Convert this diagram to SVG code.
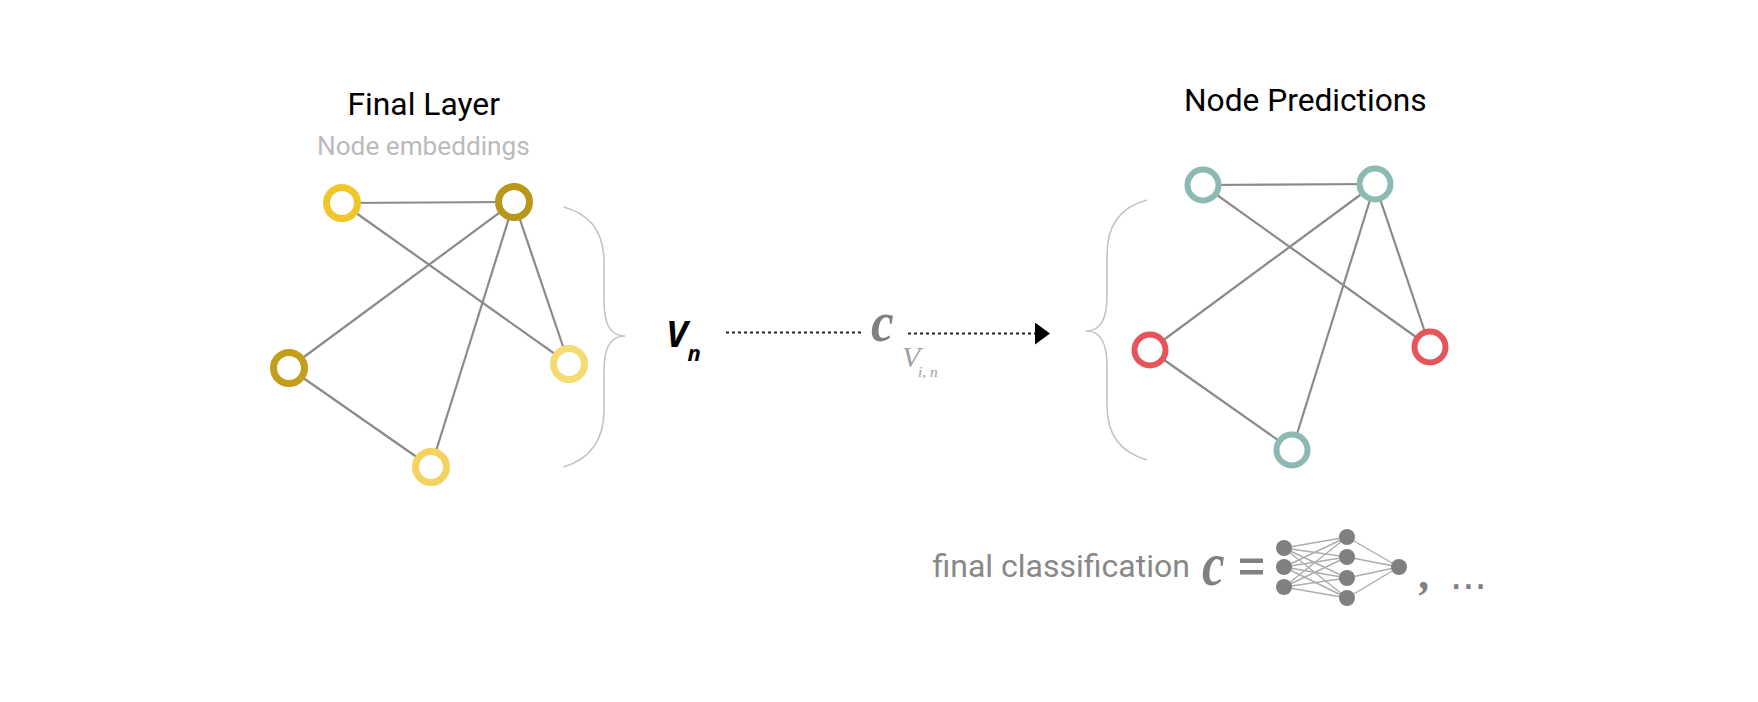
<svg xmlns="http://www.w3.org/2000/svg" width="1758" height="702" viewBox="0 0 1758 702">
<style>
.t{font-family:Roboto,"Liberation Sans",sans-serif}
.e{stroke:#8a8a8a;stroke-width:2.2;fill:none}
.n{fill:#fff;stroke-width:7}
.r{fill:#fff;stroke-width:6}
.b{fill:none;stroke:#c4c4c4;stroke-width:1.6}
.d{stroke:#222;stroke-width:2;stroke-dasharray:3 3;fill:none}
.k{fill:#808080}
.w{stroke:#adadad;stroke-width:1.4}
.s{font-family:"Liberation Serif",serif;font-style:italic}
</style>
<defs><marker id="arrow" markerUnits="userSpaceOnUse" markerWidth="16" markerHeight="22" refX="0" refY="11" orient="auto"><path d="M0 0L15 11L0 22Z" fill="#000"/></marker></defs>
<rect width="1758" height="702" fill="#fff"/>
<g id="connectors">
<g id="left-edges">
<line class="e" x1="342" y1="203" x2="514" y2="202"/><line class="e" x1="342" y1="203" x2="569" y2="364"/><line class="e" x1="514" y1="202" x2="289" y2="368"/><line class="e" x1="514" y1="202" x2="569" y2="364"/><line class="e" x1="514" y1="202" x2="431" y2="467"/><line class="e" x1="289" y1="368" x2="431" y2="467"/>
</g>
<g id="right-edges">
<line class="e" x1="1203" y1="185" x2="1375" y2="184"/><line class="e" x1="1203" y1="185" x2="1430" y2="347"/><line class="e" x1="1375" y1="184" x2="1150" y2="350"/><line class="e" x1="1375" y1="184" x2="1430" y2="347"/><line class="e" x1="1375" y1="184" x2="1292" y2="450"/><line class="e" x1="1150" y1="350" x2="1292" y2="450"/>
</g>
<line class="d" x1="726" y1="332.5" x2="862" y2="332.5"/>
<line class="d" x1="908" y1="333.5" x2="1035" y2="333.5" marker-end="url(#arrow)"/>
</g>
<path id="brace-left" class="b" d="M563.5 207C590 214 604 232 604 262V300C604 322 609 336 625 336C609 336 604 350 604 372V410C604 440 590 459 563.5 467"/>
<path id="brace-right" class="b" d="M1147 200C1120 207 1107 225 1107 255V295C1107 317 1102 331 1086 331C1102 331 1107 345 1107 367V405C1107 435 1120 452 1147 460"/>
<g id="left-a"><circle class="n" cx="342" cy="203" r="15.5" stroke="#f2c62b"/></g>
<g id="left-b"><circle class="n" cx="514" cy="202" r="15.5" stroke="#b8971b"/></g>
<g id="left-c"><circle class="n" cx="289" cy="368" r="15.5" stroke="#c29e1c"/></g>
<g id="left-d"><circle class="n" cx="569" cy="364" r="15.5" stroke="#f4db72"/></g>
<g id="left-e"><circle class="n" cx="431" cy="467" r="15.5" stroke="#f3d35d"/></g>
<g id="right-a"><circle class="r" cx="1203" cy="185" r="15.5" stroke="#8cbab3"/></g>
<g id="right-b"><circle class="r" cx="1375" cy="184" r="15.5" stroke="#8cbab3"/></g>
<g id="right-c"><circle class="r" cx="1150" cy="350" r="15.5" stroke="#e5555c"/></g>
<g id="right-d"><circle class="r" cx="1430" cy="347" r="15.5" stroke="#e5555c"/></g>
<g id="right-e"><circle class="r" cx="1292" cy="450" r="15.5" stroke="#8cbab3"/></g>
<text class="t" x="347.5" y="114.5" font-size="31.8" fill="#000">Final Layer</text>
<text class="t" x="317" y="154.5" font-size="26.2" fill="#bbb">Node embeddings</text>
<text class="t" x="1184" y="111" font-size="31.7" fill="#000">Node Predictions</text>
<text x="666" y="347" font-size="36" font-weight="700" font-style="italic" font-family="'Open Sans',sans-serif" fill="#000">V</text>
<text x="687.5" y="361" font-size="22" font-weight="700" font-style="italic" font-family="'Open Sans',sans-serif" fill="#000">n</text>
<text class="s" transform="translate(871 341) scale(.88 1)" font-size="58" font-weight="700" fill="#808080">c</text>
<text class="s" x="902" y="367" font-size="30" fill="#a0a0a0">V</text>
<text class="s" x="918" y="377" font-size="15.5" fill="#a0a0a0">i, n</text>
<text class="t" x="932.5" y="577" font-size="32" fill="#888">final classification</text>
<text class="s" transform="translate(1202 585) scale(.82 1)" font-size="62" font-weight="700" fill="#808080">c</text>
<g id="equals" class="k"><rect x="1240" y="558.5" width="23" height="4.5"/><rect x="1240" y="570" width="23" height="4.5"/></g>
<g id="mini-network">
<g class="w">
<line x1="1284" y1="548" x2="1347" y2="537"/><line x1="1284" y1="548" x2="1347" y2="557"/><line x1="1284" y1="548" x2="1347" y2="578"/><line x1="1284" y1="548" x2="1347" y2="598"/>
<line x1="1284" y1="567" x2="1347" y2="537"/><line x1="1284" y1="567" x2="1347" y2="557"/><line x1="1284" y1="567" x2="1347" y2="578"/><line x1="1284" y1="567" x2="1347" y2="598"/>
<line x1="1284" y1="587" x2="1347" y2="537"/><line x1="1284" y1="587" x2="1347" y2="557"/><line x1="1284" y1="587" x2="1347" y2="578"/><line x1="1284" y1="587" x2="1347" y2="598"/>
<line x1="1347" y1="537" x2="1399" y2="567"/><line x1="1347" y1="557" x2="1399" y2="567"/><line x1="1347" y1="578" x2="1399" y2="567"/><line x1="1347" y1="598" x2="1399" y2="567"/>
</g>
<g class="k">
<circle cx="1284" cy="548" r="8"/><circle cx="1284" cy="567" r="8"/><circle cx="1284" cy="587" r="8"/>
<circle cx="1347" cy="537" r="8"/><circle cx="1347" cy="557" r="8"/><circle cx="1347" cy="578" r="8"/><circle cx="1347" cy="598" r="8"/>
<circle cx="1399" cy="567" r="8"/>
</g>
</g>
<text x="1420" y="589" font-size="44" font-weight="700" font-family="'Liberation Serif',serif" font-style="italic" fill="#808080">,</text>
<text x="1450" y="589" font-size="44" font-family="'Liberation Sans',sans-serif" fill="#808080">...</text>
</svg>
